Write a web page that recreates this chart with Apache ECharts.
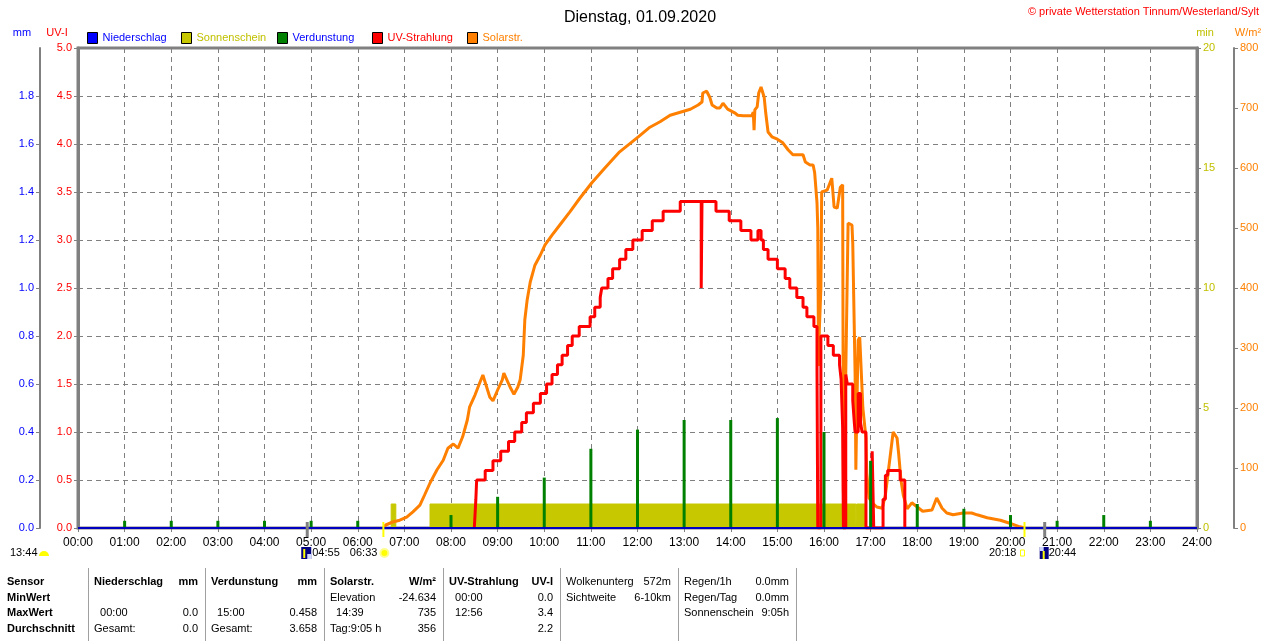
<!DOCTYPE html>
<html lang="de">
<head>
<meta charset="utf-8">
<title>Dienstag, 01.09.2020</title>
<script src="https://cdn.jsdelivr.net/npm/echarts@6/dist/echarts.min.js"></script>
<style>
  html, body { margin: 0; padding: 0; background: #fff; }
  #chart { width: 1280px; height: 641px; }
</style>
</head>
<body>
<div id="chart"></div>
<script>
// Tagesgrafik Wetterstation Tinnum/Westerland/Sylt, 01.09.2020
const FONT = '"Liberation Sans", Arial, sans-serif';

// X-Achse (Uhrzeit)
const stundenLabels = ['00:00', '01:00', '02:00', '03:00', '04:00', '05:00', '06:00', '07:00', '08:00',
  '09:00', '10:00', '11:00', '12:00', '13:00', '14:00', '15:00', '16:00', '17:00', '18:00',
  '19:00', '20:00', '21:00', '22:00', '23:00', '24:00'];

// Solarstrahlung W/m²
const solarZeit = [
  '06:33', '06:36', '06:45', '06:54', '07:03', '07:11', '07:20', '07:26', '07:33', '07:42', '07:50', '07:56',
  '08:03', '08:09', '08:15', '08:21', '08:24', '08:31', '08:37', '08:41', '08:50', '08:54',
  '09:00', '09:06', '09:08', '09:16', '09:21', '09:26', '09:29', '09:33', '09:35', '09:38', '09:42', '09:48', '09:55',
  '10:01', '10:10', '10:20', '10:33', '10:46', '11:01', '11:18', '11:37',
  '12:01', '12:16', '12:29', '12:42', '12:55', '13:08', '13:18', '13:23', '13:24', '13:29', '13:33', '13:36', '13:42', '13:46', '13:50', '13:56',
  '14:05', '14:09', '14:16', '14:27', '14:29', '14:30', '14:31', '14:34', '14:36', '14:39', '14:43', '14:45', '14:48', '14:53',
  '15:00', '15:07', '15:14', '15:20', '15:33', '15:36', '15:42', '15:46', '15:48', '15:51', '15:52', '15:53', '15:54', '15:56', '15:57',
  '16:04', '16:10', '16:13', '16:17', '16:21', '16:24', '16:25', '16:28', '16:31', '16:36', '16:37', '16:40', '16:41', '16:42', '16:44', '16:46', '16:49', '16:50', '16:54', '16:55', '16:58',
  '17:02', '17:08', '17:15', '17:19', '17:25', '17:29', '17:34', '17:36', '17:39', '17:42', '17:47', '17:53',
  '18:00', '18:07', '18:19', '18:25', '18:32', '18:38', '18:46', '18:59', '19:10', '19:17', '19:30', '19:47', '19:59', '20:12', '20:19'
];
const solarWert = [
  0, 5, 10, 13, 18, 27, 38, 55, 75, 97, 113, 133,
  140, 133, 152, 180, 202, 222, 242, 255, 218, 212,
  230, 247, 258, 235, 223, 235, 247, 288, 347, 380, 410, 438, 455,
  472, 488, 505, 527, 550, 575, 600, 627,
  652, 668, 677, 688, 693, 698, 705, 710, 725, 728, 718, 705, 700, 700, 708, 698,
  692, 688, 687, 687, 693, 663, 697, 702, 725, 735, 718, 692, 660, 652,
  648, 642, 630, 622, 622, 610, 605, 605, 592, 542, 500, 270, 330, 400, 560,
  563, 583, 535, 533, 568, 572, 58, 258, 508, 505, 475, 258, 97, 180, 313, 318, 230, 200, 150, 92, 50,
  42, 35, 33, 55, 118, 160, 150, 125, 80, 55, 32, 42,
  35, 28, 30, 50, 33, 25, 22, 25, 25, 22, 17, 13, 8, 2, 0
];

// UV-Strahlung UV-I (Stufenwerte, gelten ab Zeitpunkt)
const uvZeit = [
  '08:30', '08:32', '08:33', '08:44', '08:54', '09:04', '09:14', '09:22', '09:31', '09:37', '09:46', '09:55',
  '10:03', '10:10', '10:17', '10:23', '10:30', '10:36', '10:45', '10:59', '11:05', '11:12', '11:14', '11:22', '11:28', '11:37', '11:45', '11:54',
  '12:06', '12:19', '12:33', '12:55', '13:22', '13:23', '13:41', '13:58',
  '14:13', '14:26', '14:35', '14:39', '14:42', '14:48', '15:00', '15:10', '15:16', '15:25', '15:33', '15:38', '15:47', '15:51', '15:52', '15:56',
  '16:05', '16:12', '16:20', '16:22', '16:24', '16:25', '16:28', '16:30', '16:37', '16:39', '16:40', '16:44', '16:47', '16:49', '16:54',
  '17:02', '17:04', '17:16', '17:19', '17:22', '17:38', '17:44'
];
const uvWert = [
  0, 0.3, 0.5, 0.6, 0.7, 0.8, 0.9, 1.0, 1.1, 1.2, 1.3, 1.4,
  1.5, 1.6, 1.7, 1.8, 1.9, 2.0, 2.1, 2.2, 2.3, 2.4, 2.5, 2.6, 2.7, 2.8, 2.9, 3.0,
  3.1, 3.2, 3.3, 3.4, 2.5, 3.4, 3.3, 3.2,
  3.1, 3.0, 3.1, 3.0, 2.9, 2.8, 2.7, 2.6, 2.5, 2.4, 2.3, 2.2, 2.1, 1.65, 0, 2.0,
  1.9, 1.8, 1.7, 1.55, 1.05, 0, 1.6, 1.5, 1.33, 1.1, 1.0, 1.4, 1.1, 1.0, 0,
  0.8, 0, 0.3, 0.55, 0.6, 0.5, 0
];

// Verdunstung mm (Stundenwerte)
const verdunstungZeit = ['01:00', '02:00', '03:00', '04:00', '05:00', '06:00', '07:00', '08:00',
  '09:00', '10:00', '11:00', '12:00', '13:00', '14:00', '15:00', '16:00', '17:00', '18:00',
  '19:00', '20:00', '21:00', '22:00', '23:00'];
const verdunstungWert = [0.03, 0.03, 0.03, 0.03, 0.03, 0.03, 0, 0.054,
  0.13, 0.21, 0.33, 0.41, 0.45, 0.45, 0.458, 0.40, 0.28, 0.10,
  0.08, 0.054, 0.03, 0.054, 0.03];

// Niederschlag mm
const niederschlagZeit = stundenLabels;
const niederschlagWert = [0, 0, 0, 0, 0, 0, 0, 0, 0, 0, 0, 0, 0, 0, 0, 0, 0, 0, 0, 0, 0, 0, 0, 0, 0];

// Sonnenschein min/min
const sonnenscheinBeginn = ['06:43', '07:33', '16:42'];
const sonnenscheinEnde = ['06:49', '16:41', '16:54'];
const sonnenscheinMinuten = [1, 1, 1];

// Astronomische Zeiten
const mondaufgang = '13:44';
const daemmerungBeginn = '04:55';
const sonnenaufgang = '06:33';
const sonnenuntergang = '20:18';
const daemmerungEnde = '20:44';

// Tabelle unten
const tabelleSensor = ['Sensor', 'MinWert', 'MaxWert', 'Durchschnitt'];
const tabelleSpalten = [
  { fett: true, zeilen: [['Niederschlag', 'mm'], ['', ''], ['  00:00', '0.0'], ['Gesamt:', '0.0']] },
  { fett: true, zeilen: [['Verdunstung', 'mm'], ['', ''], ['  15:00', '0.458'], ['Gesamt:', '3.658']] },
  { fett: true, zeilen: [['Solarstr.', 'W/m²'], ['Elevation', '-24.634'], ['  14:39', '735'], ['Tag:9:05 h', '356']] },
  { fett: true, zeilen: [['UV-Strahlung', 'UV-I'], ['  00:00', '0.0'], ['  12:56', '3.4'], ['', '2.2']] },
  { fett: false, zeilen: [['Wolkenunterg', '572m'], ['Sichtweite', '6-10km'], ['', ''], ['', '']] },
  { fett: false, zeilen: [['Regen/1h', '0.0mm'], ['Regen/Tag', '0.0mm'], ['Sonnenschein', '9:05h'], ['', '']] }
];

// Legende
const legendNamen = ['Niederschlag', 'Sonnenschein', 'Verdunstung', 'UV-Strahlung', 'Solarstr.'];
const legendTextFarben = ['#0000ff', '#c0c000', '#0000ff', '#ff0000', '#ff8000'];
const legendLinks = [87, 181, 277, 372, 467];

function minuten(t) {
  const [h, m] = t.split(':').map(Number);
  return h * 60 + m;
}

const solarDaten = solarZeit.map((t, i) => [minuten(t), solarWert[i]]);
const uvDaten = uvZeit.map((t, i) => [minuten(t), uvWert[i]]);
const verdunstungDaten = verdunstungZeit.map((t, i) => [minuten(t), verdunstungWert[i]]);
const niederschlagDaten = niederschlagZeit.map((t, i) => [minuten(t), niederschlagWert[i]]);
const sonnenscheinDaten = [];
sonnenscheinBeginn.forEach((b, i) => {
  const s = minuten(b), e = minuten(sonnenscheinEnde[i]), v = sonnenscheinMinuten[i];
  sonnenscheinDaten.push([s, 0], [s, v], [e, v], [e, 0]);
});

const grau = '#808080';
const gitter = { color: grau, width: 1, type: [5, 4] };

const chart = echarts.init(document.getElementById('chart'));

const option = {
  animation: false,
  textStyle: { fontFamily: FONT },
  title: {
    text: 'Dienstag, 01.09.2020',
    left: 'center',
    top: 5,
    textStyle: { fontSize: 16, fontWeight: 'normal', color: '#000', fontFamily: FONT }
  },
  legend: legendNamen.map((name, i) => ({
    left: legendLinks[i],
    top: 32,
    padding: 0,
    icon: 'rect',
    itemWidth: 10,
    itemHeight: 11,
    selectedMode: false,
    data: [name],
    itemStyle: { borderColor: '#000', borderWidth: 1 },
    textStyle: { color: legendTextFarben[i], fontSize: 11, fontFamily: FONT }
  })),
  grid: {
    left: 78, right: 83, top: 48, bottom: 113,
    show: true, borderColor: grau, borderWidth: 3
  },
  xAxis: {
    type: 'value',
    min: 0, max: 1440, interval: 60,
    axisLine: { show: true, lineStyle: { color: grau, width: 1 } },
    axisTick: { show: true, length: 4, lineStyle: { color: grau } },
    axisLabel: {
      color: '#000', fontSize: 12, margin: 9, fontFamily: FONT,
      formatter: v => stundenLabels[Math.round(v / 60)]
    },
    splitLine: { show: true, lineStyle: gitter }
  },
  yAxis: [
    { // UV-I
      type: 'value', min: 0, max: 5, interval: 0.5, position: 'left', offset: 0,
      axisLine: { show: true, lineStyle: { color: grau, width: 3 } },
      axisTick: { show: true, length: 4, lineStyle: { color: grau } },
      axisLabel: { color: '#ff0000', fontSize: 11, margin: 6, fontFamily: FONT, formatter: v => v.toFixed(1) },
      splitLine: { show: true, lineStyle: gitter }
    },
    { // mm
      type: 'value', min: 0, max: 2, interval: 0.2, position: 'left', offset: 38,
      axisLine: { show: true, lineStyle: { color: grau, width: 2 } },
      axisTick: { show: true, length: 4, lineStyle: { color: grau } },
      axisLabel: { color: '#0000ff', fontSize: 11, margin: 6, fontFamily: FONT, showMaxLabel: false, formatter: v => v.toFixed(1) },
      splitLine: { show: false }
    },
    { // min
      type: 'value', min: 0, max: 20, interval: 5, position: 'right', offset: 0,
      axisLine: { show: true, lineStyle: { color: grau, width: 3 } },
      axisTick: { show: true, length: 4, lineStyle: { color: grau } },
      axisLabel: { color: '#c0c000', fontSize: 11, margin: 6, fontFamily: FONT },
      splitLine: { show: false }
    },
    { // W/m²
      type: 'value', min: 0, max: 800, interval: 100, position: 'right', offset: 37,
      axisLine: { show: true, lineStyle: { color: grau, width: 2 } },
      axisTick: { show: true, length: 4, lineStyle: { color: grau } },
      axisLabel: { color: '#ff8000', fontSize: 11, margin: 6, fontFamily: FONT },
      splitLine: { show: false }
    }
  ],
  series: [
    {
      name: 'Sonnenschein', type: 'line', yAxisIndex: 2, data: sonnenscheinDaten,
      symbol: 'none', z: 1,
      itemStyle: { color: '#c8c800' },
      lineStyle: { color: '#c8c800', width: 1 },
      areaStyle: { color: '#c8c800', opacity: 1 }
    },
    {
      name: 'Solarstr.', type: 'line', yAxisIndex: 3, data: solarDaten,
      symbol: 'none', z: 2,
      itemStyle: { color: '#ff8000' },
      lineStyle: { color: '#ff8000', width: 3 }
    },
    {
      name: 'UV-Strahlung', type: 'line', step: 'end', yAxisIndex: 0, data: uvDaten,
      symbol: 'none', z: 3,
      itemStyle: { color: '#ff0000' },
      lineStyle: { color: '#ff0000', width: 3 }
    },
    {
      name: 'Verdunstung', type: 'bar', yAxisIndex: 1, data: verdunstungDaten,
      barWidth: 3, z: 4,
      itemStyle: { color: '#008000' }
    },
    {
      name: 'Niederschlag', type: 'line', yAxisIndex: 1, data: niederschlagDaten,
      symbol: 'none', z: 5,
      itemStyle: { color: '#0000ff' },
      lineStyle: { color: '#0000c0', width: 2 }
    }
  ]
};

chart.setOption(option);

// Texte, Tabelle und Sonnen-/Mondzeiten
function text(str, x, y, farbe, opts = {}) {
  const align = opts.align || 'left';
  return {
    type: 'text', silent: true,
    style: {
      text: str, x: x, y: y, fill: farbe,
      font: (opts.bold ? 'bold ' : '') + (opts.size || 11) + 'px ' + FONT,
      textAlign: align, align: align,
      textVerticalAlign: 'middle', verticalAlign: 'middle'
    }
  };
}

const g = [];
g.push(text('© private Wetterstation Tinnum/Westerland/Sylt', 1259, 12, '#ff0000', { align: 'right' }));
g.push(text('mm', 22, 33, '#0000ff', { align: 'center' }));
g.push(text('UV-I', 57, 33, '#ff0000', { align: 'center' }));
g.push(text('min', 1205, 33, '#c0c000', { align: 'center' }));
g.push(text('W/m²', 1248, 33, '#ff8000', { align: 'center' }));

const px = t => chart.convertToPixel({ xAxisIndex: 0 }, minuten(t));
const yIcons = 553;

// Markierungen an der Zeitachse
[[daemmerungBeginn, grau, 3], [sonnenaufgang, '#ffff00', 2], [sonnenuntergang, '#ffff00', 2], [daemmerungEnde, grau, 3]]
  .forEach(([t, farbe, w]) => {
    g.push({ type: 'rect', silent: true, z: 10, shape: { x: px(t) - w / 2, y: 522, width: w, height: 15 }, style: { fill: farbe } });
  });

// Mondaufgang
g.push(text(mondaufgang, 10, yIcons, '#000'));
g.push({ type: 'sector', silent: true, shape: { cx: 44, cy: yIcons + 3, r: 5, startAngle: Math.PI, endAngle: 2 * Math.PI }, style: { fill: '#ffff00' } });

// Dämmerung Beginn
const xd1 = px(daemmerungBeginn);
g.push({ type: 'rect', silent: true, shape: { x: xd1 - 6, y: yIcons - 6, width: 10, height: 12 }, style: { fill: '#000080' } });
g.push({ type: 'rect', silent: true, shape: { x: xd1 - 4, y: yIcons - 4, width: 2, height: 9 }, style: { fill: '#ffff00' } });
g.push({ type: 'rect', silent: true, shape: { x: xd1, y: yIcons + 1, width: 4, height: 5 }, style: { fill: '#d0d8ff' } });
g.push(text(daemmerungBeginn, xd1 + 5, yIcons, '#000'));

// Sonnenaufgang
const xs1 = px(sonnenaufgang);
g.push(text(sonnenaufgang, xs1 - 6, yIcons, '#000', { align: 'right' }));
g.push({ type: 'circle', silent: true, shape: { cx: xs1 + 1, cy: yIcons, r: 4 }, style: { fill: '#ffff00', stroke: '#ffff90', lineWidth: 2 } });

// Sonnenuntergang
const xs2 = px(sonnenuntergang);
g.push(text(sonnenuntergang, xs2 - 8, yIcons, '#000', { align: 'right' }));
g.push({ type: 'rect', silent: true, shape: { x: xs2 - 4, y: yIcons - 3, width: 4, height: 6 }, style: { fill: 'none', stroke: '#ffff00', lineWidth: 1 } });

// Dämmerung Ende
const xd2 = px(daemmerungEnde);
g.push({ type: 'rect', silent: true, shape: { x: xd2 - 5, y: yIcons - 6, width: 9, height: 12 }, style: { fill: '#000080' } });
g.push({ type: 'rect', silent: true, shape: { x: xd2 - 2, y: yIcons - 2, width: 2, height: 8 }, style: { fill: '#ffff00' } });
g.push({ type: 'rect', silent: true, shape: { x: xd2 - 5, y: yIcons - 6, width: 4, height: 4 }, style: { fill: '#d0d8ff' } });
g.push(text(daemmerungEnde, xd2 + 4, yIcons, '#000'));

// Tabelle
const trenner = [88, 205, 324, 443, 560, 678, 796];
const zeileY = i => 582 + i * 15.7;
tabelleSensor.forEach((s, i) => g.push(text(s, 7, zeileY(i), '#000', { bold: true })));
trenner.forEach(x => {
  g.push({ type: 'line', silent: true, shape: { x1: x + 0.5, y1: 568, x2: x + 0.5, y2: 641 }, style: { stroke: '#a0a0a0', lineWidth: 1 } });
});
tabelleSpalten.forEach((sp, c) => {
  const links = trenner[c] + 6;
  const rechts = trenner[c + 1] - 7;
  sp.zeilen.forEach(([l, r], i) => {
    const bold = sp.fett && i === 0;
    if (l) g.push(text(l, links, zeileY(i), '#000', { bold }));
    if (r) g.push(text(r, rechts, zeileY(i), '#000', { bold, align: 'right' }));
  });
});

chart.setOption({ graphic: g });
</script>
</body>
</html>
